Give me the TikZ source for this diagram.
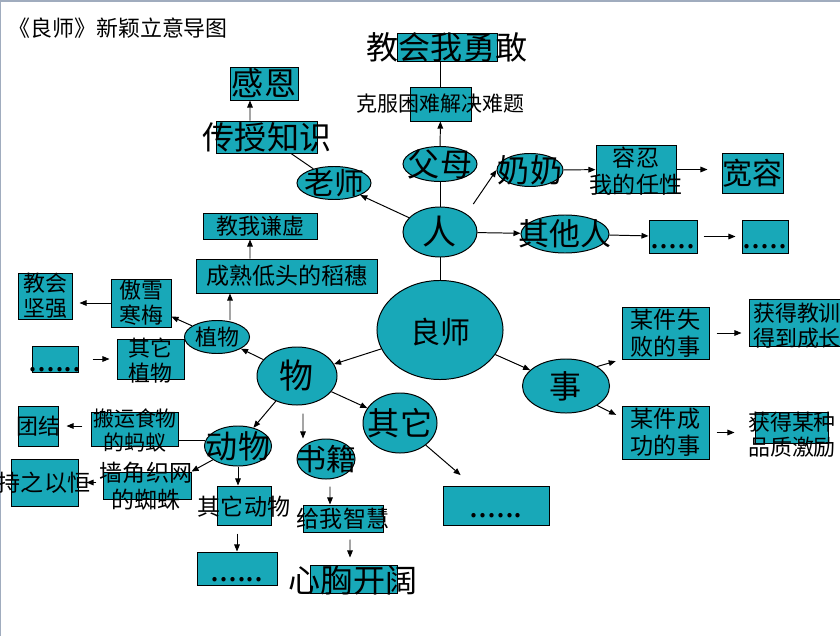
\documentclass[tikz,border=0pt]{standalone}
\usepackage{fontspec}
\setmainfont{Noto Sans CJK SC}
\usepackage{tikz}
\usetikzlibrary{arrows.meta,positioning,shapes.geometric}
\definecolor{slideteal}{RGB}{24,168,184}
\definecolor{slideedge}{RGB}{160,172,190}

\begin{document}
\begin{tikzpicture}[x=0.025cm,y=-0.025cm,>={Triangle[length=5pt,width=4pt]},line width=0.7pt,
  box/.style={draw,fill=slideteal,inner sep=0pt,align=center},
  oval/.style={ellipse,draw,fill=slideteal,inner sep=0pt},
  txt/.style={inner sep=0pt,align=center},
  dotline/.style={inner sep=0pt,font=\fontsize{23pt}{24pt}\selectfont},
  cjk21/.style={font=\fontsize{14.9pt}{17.1pt}\selectfont},
  cjk22/.style={font=\fontsize{15.6pt}{17.8pt}\selectfont},
  cjk23/.style={font=\fontsize{16.4pt}{19.2pt}\selectfont},
  cjk30/.style={font=\fontsize{21.3pt}{24pt}\selectfont},
  cjk31/.style={font=\fontsize{22pt}{25pt}\selectfont},
  cjk32/.style={font=\fontsize{22.8pt}{26pt}\selectfont},
  cjk34/.style={font=\fontsize{24.2pt}{28pt}\selectfont}]
\useasboundingbox (0,0) rectangle (840,636);
\clip (0,0) rectangle (840,636);
\fill[slideedge] (0,0) rectangle (840,2);
\fill[slideedge] (0,0) rectangle (1.5,636);
\node[txt,cjk22,anchor=west] (title) at (8,28) {《良师》新颖立意导图};
\node[oval,minimum width=3.15cm,minimum height=2.475cm] (liangshi) at (440,330) {};
\node[oval,minimum width=1.85cm,minimum height=1.25cm] (ren) at (440,232) {};
\node[oval,minimum width=1.85cm,minimum height=0.875cm] (fumu) at (440,164) {};
\node[oval,minimum width=1.85cm,minimum height=0.825cm] (laoshi) at (334,183) {};
\node[oval,minimum width=1.65cm,minimum height=0.825cm] (nainai) at (530,170) {};
\node[oval,minimum width=2.2cm,minimum height=0.95cm] (qitaren) at (565,234) {};
\node[oval,minimum width=2.175cm,minimum height=1.35cm] (shi) at (566,386) {};
\node[oval,minimum width=2cm,minimum height=1.45cm] (wu) at (297,376) {};
\node[oval,minimum width=1.625cm,minimum height=0.825cm] (zhiwu) at (217,337) {};
\node[oval,minimum width=1.85cm,minimum height=1.5cm] (qita) at (400,423) {};
\node[oval,minimum width=1.675cm,minimum height=1cm] (dongwu) at (238,446) {};
\node[oval,minimum width=1.45cm,minimum height=1cm] (shuji) at (326,459) {};
\node[box,minimum width=2.5cm,minimum height=0.7cm] (yonggan) at (447,47) {};
\node[box,minimum width=1.525cm,minimum height=0.85cm] (kefu) at (440.5,104) {};
\node[box,cjk32,minimum width=1.7cm,minimum height=0.825cm] (ganen) at (264,83.5) {感恩};
\node[box,minimum width=2.5cm,minimum height=0.8cm] (chuanshou) at (267,137) {};
\node[box,minimum width=2cm,minimum height=1.175cm] (rongren) at (636,169.5) {};
\node[box,cjk30,minimum width=1.525cm,minimum height=1cm] (kuanrong) at (752.5,173) {宽容};
\node[box,minimum width=1.2cm,minimum height=0.825cm] (dots1) at (673,236.5) {};
\node[box,minimum width=1.15cm,minimum height=0.825cm] (dots2) at (765,236.5) {};
\node[box,cjk22,minimum width=2.825cm,minimum height=0.65cm] (qianxu) at (260.5,226) {教我谦虚};
\node[box,cjk23,minimum width=4.5cm,minimum height=0.85cm] (daosui) at (287,276) {成熟低头的稻穗};
\node[box,cjk22,minimum width=1.5cm,minimum height=1.2cm] (aoxue) at (141,303) {傲雪\\寒梅};
\node[box,cjk22,minimum width=1.35cm,minimum height=1.15cm] (jianqiang) at (45,296) {教会\\坚强};
\node[box,minimum width=1.675cm,minimum height=1cm] (qitazhiwu) at (150.5,359) {};
\node[box,minimum width=1.15cm,minimum height=0.65cm] (dots3) at (55,359) {};
\node[box,cjk23,minimum width=2.175cm,minimum height=1.3cm] (shibai) at (665.5,333) {某件失\\败的事};
\node[box,minimum width=2.5cm,minimum height=1.175cm] (chengzhang) at (799,322.5) {};
\node[box,cjk23,minimum width=2.175cm,minimum height=1.325cm] (chenggong) at (665.5,432.5) {某件成\\功的事};
\node[box,minimum width=1.825cm,minimum height=0.775cm] (jili) at (791.5,427.5) {};
\node[box,minimum width=2.65cm,minimum height=0.975cm] (dots4) at (496,505.5) {};
\node[box,minimum width=2cm,minimum height=0.675cm] (zhihui) at (343,518.5) {};
\node[box,minimum width=2.175cm,minimum height=0.7cm] (xinxiong) at (353.5,579) {};
\node[box,minimum width=1.35cm,minimum height=0.975cm] (qitadongwu) at (244,505.5) {};
\node[box,minimum width=2cm,minimum height=0.825cm] (dots5) at (237,568.5) {};
\node[box,minimum width=2.15cm,minimum height=0.85cm] (mayi) at (135,429) {};
\node[box,minimum width=1cm,minimum height=1cm] (tuanjie) at (38,426) {};
\node[box,minimum width=2.175cm,minimum height=0.675cm] (zhizhu) at (147.5,485.5) {};
\node[box,minimum width=1.65cm,minimum height=1.175cm] (chizhi) at (45,482.5) {};
\draw (kefu.north) -- (kefu.north |- yonggan.south);
\draw[->] (fumu) -- (kefu);
\draw (ren) -- (fumu);
\draw[->] (ren) -- (laoshi);
\draw (laoshi) -- (chuanshou);
\draw[->] ([xshift=-0.425cm]chuanshou.north) -- ([xshift=-0.35cm]ganen.south);
\draw[->,shorten <=0.3cm] (ren.north east) -- (nainai.west);
\draw[->] (nainai) -- (rongren);
\draw[->,shorten >=0.35cm] (rongren.east) -- (rongren.east -| kuanrong.west);
\draw[->] (ren) -- (qitaren);
\draw[->] (qitaren) -- (dots1);
\draw[->,shorten <=0.15cm,shorten >=0.15cm] (dots1) -- (dots2);
\draw (ren) -- (liangshi);
\draw[->] (liangshi) -- (wu);
\draw[->] (liangshi) -- (shi);
\draw[->,shorten >=0.15cm] (shi.north east) -- (shibai.south west);
\draw[->,shorten >=0.15cm] (shi.south east) -- ([yshift=-0.3cm]chenggong.north west);
\draw[->,shorten <=0.175cm,shorten >=0.175cm] (shibai.east) -- (shibai.east -| chengzhang.west);
\draw[->,shorten <=0.175cm,shorten >=0.5cm] (chenggong.east) -- (chenggong.east -| jili.west);
\draw[->] (wu) -- (zhiwu);
\draw[->] ([xshift=0.325cm]zhiwu.north) -- ([xshift=-1.425cm]daosui.south);
\draw[->] ([xshift=-0.925cm]daosui.north) -- ([xshift=-0.2625cm]qianxu.south);
\draw[->] (zhiwu) -- (aoxue);
\draw[->,shorten >=0.175cm] (aoxue.west) -- (aoxue.west -| jianqiang.east);
\draw[->,shorten <=0.35cm,shorten >=0.175cm] (dots3) -- (qitazhiwu);
\draw[->] (wu) -- (qita);
\draw[->,shorten >=0.4cm] (qita) -- (dots4);
\draw[->] ([xshift=0.15cm,yshift=-0.2cm]wu.south) -- ([xshift=-0.575cm]shuji.north);
\draw[->] ([xshift=0.1cm,yshift=-0.175cm]shuji.south) -- ([xshift=-0.325cm]zhihui.north);
\draw[->] ([xshift=0.175cm,yshift=-0.175cm]zhihui.south) -- ([xshift=-0.0875cm,yshift=0.175cm]xinxiong.north);
\draw[->] (wu) -- (dongwu);
\draw[->] (dongwu.south) -- (dongwu.south |- qitadongwu.north);
\draw[->,shorten <=0.2cm] (dots5.north |- qitadongwu.south) -- (dots5.north);
\draw (dongwu.170) -- (dongwu.170 -| mayi.east);
\draw[->,shorten <=0.225cm,shorten >=0.2cm] (tuanjie.east -| mayi.west) -- (tuanjie.east);
\draw[->] (dongwu) -- (zhizhu.north east);
\draw[->,shorten <=0.175cm,shorten >=0.2cm] (chizhi.east -| zhizhu.west) -- (chizhi.east);
\node[txt,cjk30] (liangshi-t) at (440,332) {良师};
\node[txt,cjk34] (ren-t) at (ren) {人};
\node[txt,cjk32] (fumu-t) at (fumu) {父母};
\node[txt,cjk30] (laoshi-t) at (laoshi) {老师};
\node[txt,cjk32] (nainai-t) at (nainai) {奶奶};
\node[txt,cjk31] (qitaren-t) at (qitaren) {其他人};
\node[txt,cjk32] (shi-t) at (shi) {事};
\node[txt,cjk34] (wu-t) at (wu) {物};
\node[txt,cjk22] (zhiwu-t) at (zhiwu) {植物};
\node[txt,cjk32] (qita-t) at (qita) {其它};
\node[txt,cjk32] (dongwu-t) at (dongwu) {动物};
\node[txt,cjk30] (shuji-t) at (shuji) {书籍};
\node[txt,cjk32] (yonggan-t) at (yonggan) {教会我勇敢};
\node[txt,cjk21] (kefu-t) at (kefu) {克服困难解决难题};
\node[txt,cjk32] (chuanshou-t) at (chuanshou) {传授知识};
\node[txt,cjk23] (rongren-t) at (636,171) {容忍\\我的任性};
\node[dotline,above=0.1cm of dots1.south] (dots1-t) {.....};
\node[dotline,above=0.1cm of dots2.south] (dots2-t) {.....};
\node[txt,cjk22] (qitazhiwu-t) at (150.5,361) {其它\\植物};
\node[dotline,above=0pt of dots3.south] (dots3-t) {......};
\node[txt,cjk22,align=left] (chengzhang-t) at (797,326) {获得教训\\得到成长};
\node[txt,cjk22] (jili-t) at (792,435) {获得某种\\品质激励};
\node[dotline,above=0.175cm of dots4.south] (dots4-t) {......};
\node[txt,cjk23] (zhihui-t) at (343,519) {给我智慧};
\node[txt,cjk32] (xinxiong-t) at (353,580) {心胸开阔};
\node[txt,cjk23] (qitadongwu-t) at (244,507) {其它动物};
\node[dotline,above=0.075cm of dots5.south] (dots5-t) {......};
\node[txt,cjk21] (mayi-t) at (135,430) {搬运食物\\的蚂蚁};
\node[txt,cjk22] (tuanjie-t) at (38,426) {团结};
\node[txt,cjk23] (zhizhu-t) at (146,486) {墙角织网\\的蜘蛛};
\node[txt,cjk23] (chizhi-t) at (44,483) {持之以恒};
\end{tikzpicture}
\end{document}
